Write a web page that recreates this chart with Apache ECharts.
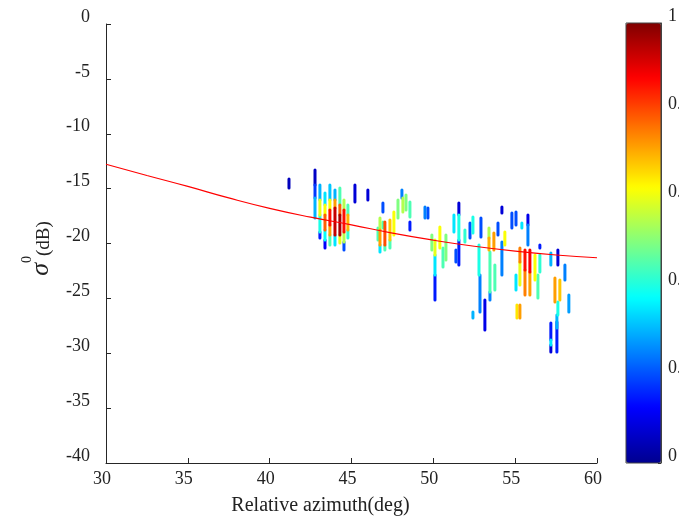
<!DOCTYPE html>
<html>
<head>
<meta charset="utf-8">
<script src="https://cdn.jsdelivr.net/npm/echarts@6/dist/echarts.min.js"></script>
<style>
html,body{margin:0;padding:0;background:#fff;}
#main{width:679px;height:523px;}
</style>
</head>
<body>
<div id="main"></div>
<script>
// streaks of points: azimuth, top / bottom of the streak (dB), normalised density
var azimuth = [41.18, 42.77, 42.77, 42.77, 43.07, 43.07, 43.07, 43.07, 43.38, 43.38, 43.38, 43.38, 43.38,
	43.68, 43.68, 43.68, 43.68, 43.68, 43.99, 43.99, 43.99, 43.99, 44.29, 44.29, 44.29, 44.29,
	44.54, 44.54, 44.54, 44.54, 44.78, 44.78, 44.78, 45.21, 46.0,
	46.92, 46.92, 46.62, 46.74, 46.74, 46.74, 47.04, 47.04, 47.35, 47.35, 47.59, 47.84, 48.08, 48.14,
	48.33, 48.57, 48.57, 49.49, 49.67,
	49.91, 50.1, 50.1, 50.1, 50.4, 50.59, 50.77, 51.26, 51.56, 51.56, 51.56, 51.38, 51.93, 52.24, 52.42,
	52.91, 52.79, 52.85, 53.15, 52.42, 53.4, 53.4, 53.7, 53.46, 53.46, 53.76, 53.95, 54.19, 54.19, 54.37,
	54.8, 55.05, 55.11, 55.29,
	55.05, 55.41, 55.78, 55.78, 55.29, 55.29, 55.6, 55.6, 55.9, 55.9, 56.21, 56.51, 56.51, 56.39,
	57.18, 57.61, 58.04, 57.43, 57.73, 57.61, 57.55, 58.28, 57.18, 57.18, 57.18, 57.55];
var sigmaTop = [-14.12, -13.3, -14.67, -15.85, -14.67, -16.04, -17.4, -18.95, -15.4, -16.49, -17.4, -18.77, -19.68,
	-14.67, -16.04, -16.95, -18.31, -19.23, -15.13, -16.04, -16.77, -19.23, -14.94, -16.49, -17.4, -19.23,
	-16.04, -16.95, -18.95, -19.86, -16.49, -17.4, -18.77, -14.67, -15.13,
	-16.31, -18.04, -18.59, -17.68, -18.77, -20.14, -18.04, -20.14, -17.86, -19.68, -17.13, -16.04, -15.13, -15.85,
	-15.58, -16.22, -18.04, -16.67, -16.77,
	-19.23, -19.68, -21.05, -22.87, -18.5, -20.41, -19.23, -17.4, -16.31, -17.4, -19.68, -20.59, -18.77, -18.13, -17.59,
	-17.68, -20.14, -22.87, -25.15, -26.24, -18.59, -19.5, -19.04, -20.77, -24.42, -21.96, -18.13, -16.67, -19.86, -18.95,
	-17.22, -22.87, -25.6, -25.6,
	-17.13, -18.13, -17.4, -18.31, -20.41, -21.69, -20.59, -22.41, -20.59, -22.6, -21.05, -20.14, -21.05, -22.87,
	-20.87, -20.59, -21.96, -23.14, -23.33, -25.33, -26.51, -24.69, -27.24, -28.79, -29.25, -27.15];
var sigmaBottom = [-14.94, -14.67, -15.85, -17.68, -16.04, -17.4, -18.95, -19.5, -16.49, -17.4, -18.77, -19.68, -20.41,
	-16.04, -16.95, -18.31, -19.23, -20.14, -16.04, -16.77, -19.23, -20.14, -16.49, -17.4, -19.23, -19.95,
	-16.95, -18.95, -19.86, -20.59, -17.4, -18.77, -19.5, -16.22, -16.04,
	-17.13, -18.59, -19.68, -18.77, -20.14, -20.77, -20.14, -20.59, -19.68, -20.41, -19.23, -17.68, -15.85, -17.13,
	-16.95, -17.59, -18.77, -17.68, -17.68,
	-20.59, -21.05, -22.87, -25.15, -20.41, -22.14, -21.5, -18.95, -17.4, -19.68, -21.96, -21.69, -19.86, -19.5, -19.04,
	-19.41, -22.87, -26.24, -27.88, -26.79, -19.5, -20.59, -20.59, -24.42, -25.15, -24.24, -19.23, -17.22, -22.87, -20.14,
	-18.59, -24.24, -26.79, -26.79,
	-18.31, -18.59, -18.31, -20.14, -21.69, -23.78, -22.41, -24.69, -22.6, -24.69, -23.33, -20.41, -22.6, -24.97,
	-21.96, -21.96, -23.33, -25.33, -25.15, -26.51, -27.7, -26.24, -28.79, -29.25, -29.89, -29.89];
var density = [0.05, 0.06, 0.18, 0.3, 0.3, 0.6, 0.4, 0.15, 0.35, 0.62, 0.78, 0.38, 0.12,
	0.32, 0.62, 0.86, 0.72, 0.45, 0.3, 0.72, 0.93, 0.35, 0.45, 0.78, 0.96, 0.6,
	0.55, 0.86, 0.55, 0.2, 0.45, 0.7, 0.42, 0.08, 0.08,
	0.2, 0.45, 0.45, 0.55, 0.72, 0.35, 0.8, 0.45, 0.68, 0.45, 0.62, 0.5, 0.25, 0.55,
	0.5, 0.45, 0.15, 0.25, 0.2,
	0.5, 0.6, 0.35, 0.15, 0.62, 0.45, 0.5, 0.35, 0.08, 0.4, 0.15, 0.2, 0.42, 0.2, 0.4,
	0.2, 0.4, 0.25, 0.1, 0.3, 0.55, 0.7, 0.72, 0.45, 0.25, 0.45, 0.2, 0.08, 0.25, 0.62,
	0.2, 0.35, 0.65, 0.72,
	0.2, 0.35, 0.1, 0.25, 0.75, 0.6, 0.86, 0.75, 0.88, 0.72, 0.62, 0.15, 0.42, 0.45,
	0.3, 0.08, 0.25, 0.72, 0.68, 0.4, 0.3, 0.28, 0.15, 0.35, 0.08, 0.15];

// fitted model curve
var curveX = [30, 32.5, 35, 37.5, 40, 42.5, 45, 47.5, 50, 52.5, 55, 57.5, 60];
var curveY = [-12.78, -13.8, -14.8, -15.85, -16.8, -17.6, -18.3, -19.05, -19.7, -20.25, -20.7, -21.05, -21.3];

var xTicks = [30, 35, 40, 45, 50, 55, 60];
var yTicks = [-40, -35, -30, -25, -20, -15, -10, -5, 0];
var cbTicks = [0, 0.2, 0.4, 0.6, 0.8, 1];

var jet = ['#00008f', '#0000ff', '#0080ff', '#00ffff', '#80ff80', '#ffff00', '#ff8000', '#ff0000', '#800000'];

var streaks = [];
for (var i = 0; i < azimuth.length; i++) {
	streaks.push([azimuth[i], sigmaTop[i], sigmaBottom[i], density[i]]);
}
// dense points drawn last, like the original
streaks.sort(function(a, b){ return a[3] - b[3]; });

var curve = [];
for (var j = 0; j < curveX.length; j++) {
	curve.push([curveX[j], curveY[j]]);
}

var font = 'Liberation Serif';
var axisColor = '#262626';

var chart = echarts.init(document.getElementById('main'));
chart.setOption({
	backgroundColor: '#fff',
	animation: false,
	grid: [
		{left: 106, top: 24, right: 82, bottom: 60, outerBoundsMode: 'none'},
		{left: 626, top: 23, width: 35, height: 440, show: true, z: 10, outerBoundsMode: 'none',
			borderColor: '#444', borderWidth: 1, backgroundColor: 'transparent'}
	],
	visualMap: {
		type: 'continuous',
		min: 0,
		max: 1,
		dimension: 3,
		seriesIndex: 0,
		calculable: false,
		hoverLink: false,
		orient: 'vertical',
		left: 626,
		top: 23,
		padding: 0,
		itemWidth: 35,
		itemHeight: 440,
		inRange: {color: jet}
	},
	xAxis: [
		{
			type: 'value', gridIndex: 0,
			min: xTicks[0], max: xTicks[xTicks.length - 1], interval: 5,
			name: 'Relative azimuth(deg)',
			nameLocation: 'middle',
			nameGap: 33,
			nameTextStyle: {fontFamily: font, fontSize: 20, color: '#222', padding: [0, 62, 0, 0]},
			axisLine: {onZero: false, lineStyle: {color: axisColor}},
			axisTick: {inside: true, length: 5, lineStyle: {color: axisColor}},
			axisLabel: {fontFamily: font, fontSize: 18, color: '#222', margin: 7, padding: [0, 8, 0, 0]},
			splitLine: {show: false}
		},
		{type: 'value', gridIndex: 1, show: false, min: 0, max: 1}
	],
	yAxis: [
		{
			type: 'value', gridIndex: 0,
			min: yTicks[0], max: yTicks[yTicks.length - 1], interval: 5,
			name: '{s|σ}{sup|0}{u|(dB)}',
			nameLocation: 'middle',
			nameRotate: 90,
			nameGap: 52,
			nameTextStyle: {
				padding: [0, 10, 0, 0],
				rich: {
					s: {fontFamily: font, fontStyle: 'italic', fontSize: 26, color: '#222', verticalAlign: 'bottom', lineHeight: 34},
					sup: {fontFamily: font, fontSize: 14, color: '#222', verticalAlign: 'top', lineHeight: 34},
					u: {fontFamily: font, fontSize: 19, color: '#222', verticalAlign: 'bottom', lineHeight: 34}
				}
			},
			axisLine: {show: true, onZero: false, lineStyle: {color: axisColor}},
			axisTick: {show: true, inside: true, length: 5, lineStyle: {color: axisColor}},
			axisLabel: {fontFamily: font, fontSize: 18, color: '#222', margin: 16, verticalAlign: 'bottom', lineHeight: 14},
			splitLine: {show: false}
		},
		{
			type: 'value', gridIndex: 1, position: 'right',
			min: cbTicks[0], max: cbTicks[cbTicks.length - 1], interval: 0.2,
			axisLine: {show: true, onZero: false, lineStyle: {color: '#444'}},
			axisTick: {show: true, inside: true, length: 3, lineStyle: {color: '#222'}},
			axisLabel: {fontFamily: font, fontSize: 18, color: '#222', margin: 7, verticalAlign: 'bottom', lineHeight: 14,
				formatter: function(v){ return (v === 0 || v === 1) ? String(v) : v.toFixed(1); }},
			splitLine: {show: false}
		}
	],
	series: [
		{
			type: 'custom',
			xAxisIndex: 0,
			yAxisIndex: 0,
			data: streaks,
			encode: {x: 0, y: [1, 2]},
			renderItem: function(params, api){
				var top = api.coord([api.value(0), api.value(1)]);
				var bot = api.coord([api.value(0), api.value(2)]);
				return {
					type: 'rect',
					shape: {x: top[0] - 1.5, y: top[1] - 1.5, width: 3, height: bot[1] - top[1] + 3, r: 1.5},
					style: {fill: api.visual('color')}
				};
			}
		},
		{
			type: 'line',
			xAxisIndex: 0,
			yAxisIndex: 0,
			data: curve,
			smooth: true,
			symbol: 'none',
			z: 5,
			lineStyle: {color: '#ff0000', width: 1.2}
		}
	]
});
</script>
</body>
</html>
